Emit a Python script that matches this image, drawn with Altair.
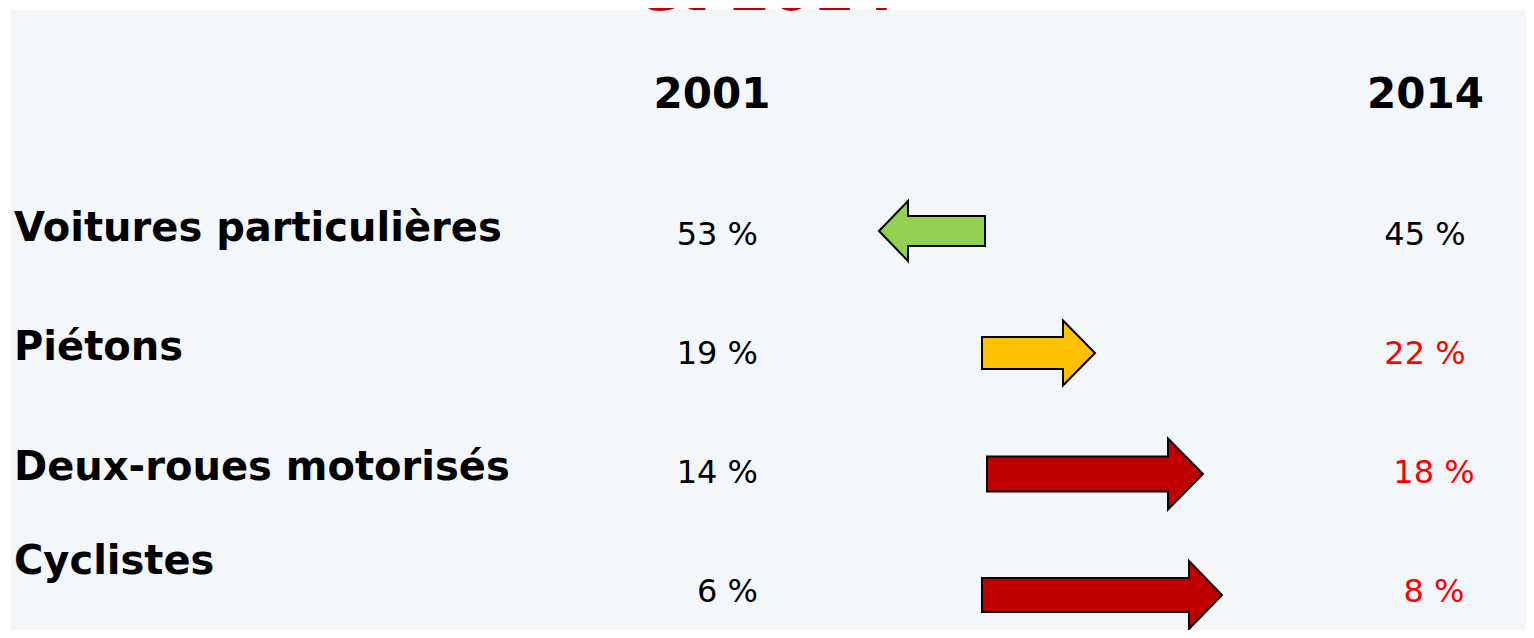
import altair as alt
import pandas as pd

# ---------------- data ----------------
categories = ["Voitures particulières", "Piétons", "Deux-roues motorisés", "Cyclistes"]
share_2001 = [53, 19, 14, 6]
share_2014 = [45, 22, 18, 8]
years = ["2001", "2014"]
trend = ["down", "up", "up", "up"]
title_text = "et 2014"

# ---------------- layout / style ----------------
W, H = 1515, 620            # plot area (px units of the layout scales)
ROW0, ROW_STEP = 223, 119   # first row centre and spacing
HEADER_Y = 85
COL_LABEL_X = 3
COL_2001_X = 747            # right edge of 2001 values
COL_2014_X = 1414           # centre of 2014 values
HEAD_2001_X, HEAD_2014_X = 701, 1414.5
VAL14_DX = [0, 0, 9, 9]
LABEL_DY = [-4, -4, -3, -28]
VAL_COLOR_2014 = ["#000000", "#FF0000", "#FF0000", "#FF0000"]
ARROW_FILL = ["#92D050", "#FFC000", "#C00000", "#C00000"]
# tail x, tip x, head length, body half height, head half height, y offset
ARROW_GEOM = [
    (974, 868, 29, 15, 30, -2),
    (971, 1084, 32, 16, 32.5, 1),
    (976, 1192, 35, 17.5, 35.5, 3),
    (971, 1211, 33, 17, 34, 5),
]
EPS = 0.01
FONT = "DejaVu Sans"
PANEL = "#F3F7FA"

xs = alt.Scale(domain=[0, W])
ys = alt.Scale(domain=[0, H], reverse=True)


def row_y(i):
    return ROW0 + ROW_STEP * i


labels = pd.DataFrame({
    "label": categories,
    "x": [COL_LABEL_X] * len(categories),
    "y": [row_y(i) + LABEL_DY[i] for i in range(len(categories))],
})

v01 = pd.DataFrame({
    "txt": [f"{v} %" for v in share_2001],
    "x": [COL_2001_X] * len(categories),
    "y": [row_y(i) + 2 for i in range(len(categories))],
})

v14 = pd.DataFrame({
    "txt": [f"{v} %" for v in share_2014],
    "x": [COL_2014_X + VAL14_DX[i] for i in range(len(categories))],
    "y": [row_y(i) + 2 for i in range(len(categories))],
    "col": VAL_COLOR_2014,
})

heads = pd.DataFrame({
    "txt": years,
    "x": [HEAD_2001_X, HEAD_2014_X],
    "y": [HEADER_Y, HEADER_Y],
})

title_df = pd.DataFrame({"txt": [title_text], "x": [756], "y": [0]})

rows = []
for i, (tail, tip, hl, bh, hh, off) in enumerate(ARROW_GEOM):
    c = row_y(i) + off
    if trend[i] == "up":
        base = tip - hl
        pts = [(tail, c - bh, c + bh), (base - EPS, c - bh, c + bh),
               (base, c - hh, c + hh), (tip, c, c)]
    else:
        base = tip + hl
        pts = [(tip, c, c), (base, c - hh, c + hh),
               (base + EPS, c - bh, c + bh), (tail, c - bh, c + bh)]
    for px, a, b in pts:
        rows.append({"arrow": categories[i], "x": px, "y": a, "y2": b,
                     "fill": ARROW_FILL[i]})
arrows = pd.DataFrame(rows)

X = lambda: alt.X("x:Q", scale=xs, axis=None)
Y = lambda: alt.Y("y:Q", scale=ys, axis=None)

arrow_layer = alt.Chart(arrows).mark_area(
    stroke="black", strokeWidth=2, strokeJoin="miter", fillOpacity=1
).encode(
    x=X(), y=Y(), y2="y2:Q",
    fill=alt.Fill("fill:N", scale=None),
    detail="arrow:N",
)

label_layer = alt.Chart(labels).mark_text(
    align="left", baseline="middle", font=FONT, fontWeight="bold",
    fontSize=40, color="black"
).encode(x=X(), y=Y(), text="label:N")

v01_layer = alt.Chart(v01).mark_text(
    align="right", baseline="middle", font=FONT, fontSize=32, color="black"
).encode(x=X(), y=Y(), text="txt:N")

v14_layer = alt.Chart(v14).mark_text(
    align="center", baseline="middle", font=FONT, fontSize=32
).encode(x=X(), y=Y(), text="txt:N", color=alt.Color("col:N", scale=None))

head_layer = alt.Chart(heads).mark_text(
    align="center", baseline="middle", font=FONT, fontWeight="bold",
    fontSize=42, color="black"
).encode(x=X(), y=Y(), text="txt:N")

title_layer = alt.Chart(title_df).mark_text(
    align="center", baseline="alphabetic", font=FONT, fontWeight="bold",
    fontSize=60, color="#C00000"
).encode(x=X(), y=Y(), text="txt:N")

chart = alt.layer(
    arrow_layer, label_layer, v01_layer, v14_layer, head_layer, title_layer
).properties(
    width=W, height=H,
    autosize=alt.AutoSizeParams(type="none"),
    padding={"left": 3, "top": 2, "right": 0, "bottom": 0},
    background="white",
).configure_view(stroke=None, fill=PANEL)

chart.save("out.html", embed_options={"renderer": "svg", "actions": False})
